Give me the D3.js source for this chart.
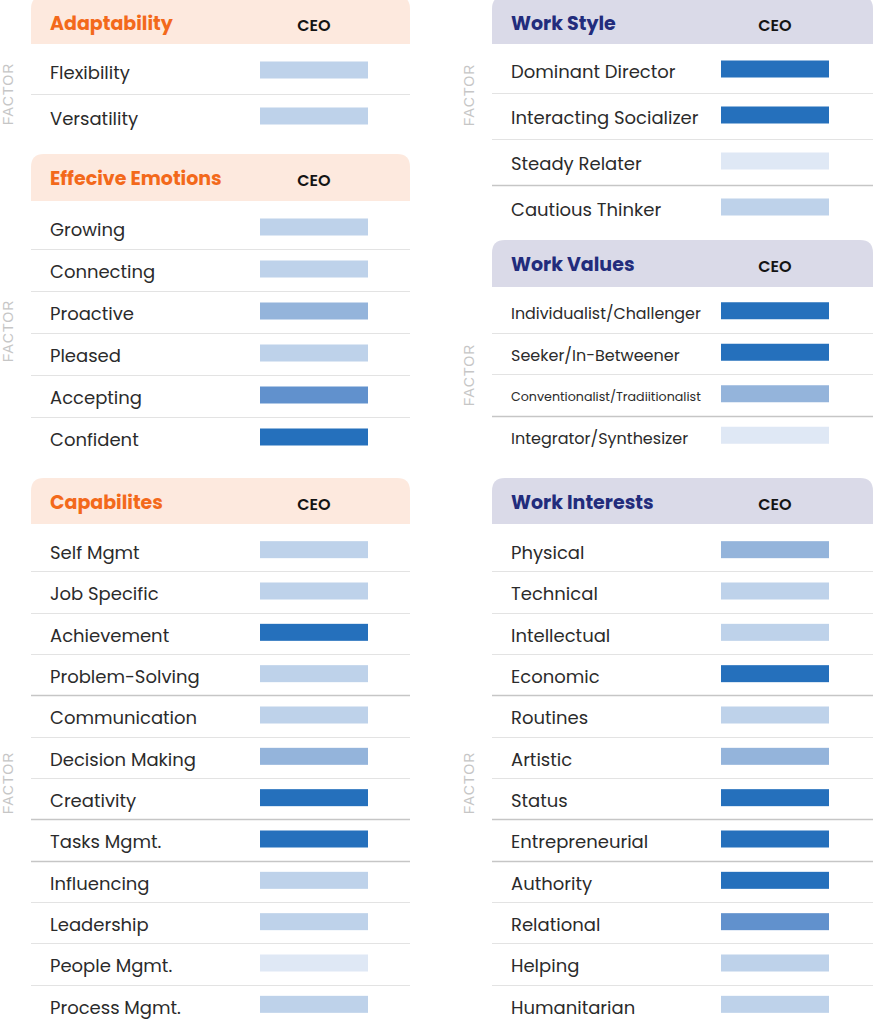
<!DOCTYPE html>
<html>
<head>
<meta charset="utf-8">
<script src="https://cdn.jsdelivr.net/npm/d3@7"></script>
<style>
  html, body { margin: 0; padding: 0; background: #fff; }
  svg { display: block; font-family: Poppins, Inter, "Open Sans", sans-serif; }
</style>
</head>
<body>
<div id="vis"></div>
<script>
// CEO factor profile: one swatch per factor, shade = level (1 lightest .. 5 darkest)

const LEVEL_KEYS   = [1, 2, 3, 4, 5];
const LEVEL_COLORS = ["#dfe8f5", "#bed2ea", "#94b4db", "#6191cd", "#2570bc"];

const ADAPT_FACTORS = ["Flexibility", "Versatility"];
const ADAPT_LEVELS  = [2, 2];

const EMOTION_FACTORS = ["Growing", "Connecting", "Proactive", "Pleased", "Accepting", "Confident"];
const EMOTION_LEVELS  = [2, 2, 3, 2, 4, 5];

const CAPABILITY_FACTORS = ["Self Mgmt", "Job Specific", "Achievement", "Problem-Solving", "Communication",
  "Decision Making", "Creativity", "Tasks Mgmt.", "Influencing", "Leadership", "People Mgmt.", "Process Mgmt."];
const CAPABILITY_LEVELS  = [2, 2, 5, 2, 2, 3, 5, 5, 2, 2, 1, 2];

const STYLE_FACTORS = ["Dominant Director", "Interacting Socializer", "Steady Relater", "Cautious Thinker"];
const STYLE_LEVELS  = [5, 5, 1, 2];

const VALUE_FACTORS = ["Individualist/Challenger", "Seeker/In-Betweener", "Conventionalist/Tradiitionalist", "Integrator/Synthesizer"];
const VALUE_LEVELS  = [5, 5, 3, 1];

const INTEREST_FACTORS = ["Physical", "Technical", "Intellectual", "Economic", "Routines", "Artistic",
  "Status", "Entrepreneurial", "Authority", "Relational", "Helping", "Humanitarian"];
const INTEREST_LEVELS  = [3, 2, 2, 5, 2, 3, 5, 5, 5, 4, 2, 2];

const COLUMN_LABEL = "CEO";
const AXIS_LABEL   = "FACTOR";

// ── Layout ───────────────────────────────────────────────────────────────────

const W = 874, H = 1024;
const ORANGE = { head: "#fde9de", title: "#f3691b" };
const NAVY   = { head: "#dadae8", title: "#222c7c" };

// strong = indices of rows whose top rule is drawn darker (as in the source image)
const panels = [
  { title: "Adaptability",      factors: ADAPT_FACTORS,      levels: ADAPT_LEVELS,      theme: ORANGE,
    x0: 31,  x1: 410, top: -4,  headBottom: 44,  rows: [48, 140],   factorX: 8,   factorY: 94 },
  { title: "Effecive Emotions", factors: EMOTION_FACTORS,    levels: EMOTION_LEVELS,    theme: ORANGE,
    x0: 31,  x1: 410, top: 154, headBottom: 201, rows: [207, 459],  factorX: 8,   factorY: 331 },
  { title: "Capabilites",       factors: CAPABILITY_FACTORS, levels: CAPABILITY_LEVELS, theme: ORANGE,
    x0: 31,  x1: 410, top: 478, headBottom: 524, rows: [530, 1026], factorX: 8,   factorY: 783, strong: [4, 7, 8] },
  { title: "Work Style",        factors: STYLE_FACTORS,      levels: STYLE_LEVELS,      theme: NAVY,
    x0: 492, x1: 873, top: -4,  headBottom: 44,  rows: [47, 231],   factorX: 469, factorY: 95,  strong: [3] },
  { title: "Work Values",       factors: VALUE_FACTORS,      levels: VALUE_LEVELS,      theme: NAVY,
    x0: 492, x1: 873, top: 240, headBottom: 287, rows: [291, 457],  factorX: 469, factorY: 375, strong: [3],
    labelSize: 16, maxLabel: 190 },
  { title: "Work Interests",    factors: INTEREST_FACTORS,   levels: INTEREST_LEVELS,   theme: NAVY,
    x0: 492, x1: 873, top: 478, headBottom: 524, rows: [530, 1026], factorX: 469, factorY: 783, strong: [4, 7, 8] },
];

const color = d3.scaleOrdinal().domain(LEVEL_KEYS).range(LEVEL_COLORS);

const svg = d3.select("#vis").append("svg").attr("width", W).attr("height", H);

panels.forEach(p => {
  const g = svg.append("g");
  const barX = p.x0 + 229, barW = 108, barH = 17;
  const labelSize = p.labelSize || 18;
  const strong = p.strong || [];

  // header with rounded top corners
  const r = 13, hx0 = p.x0, hx1 = p.x1, ht = p.top, hb = p.headBottom;
  g.append("path")
    .attr("d", `M${hx0},${hb} V${ht + r} Q${hx0},${ht} ${hx0 + r},${ht} H${hx1 - r} Q${hx1},${ht} ${hx1},${ht + r} V${hb} Z`)
    .attr("fill", p.theme.head);

  const headMid = (Math.max(p.top, 0) + p.headBottom) / 2 + 1;
  g.append("text")
    .attr("x", p.x0 + 19).attr("y", headMid).attr("dy", "0.35em")
    .style("font-size", "19px").style("font-weight", 700).style("fill", p.theme.title)
    .text(p.title);
  g.append("text")
    .attr("x", barX + barW / 2).attr("y", headMid + 2).attr("dy", "0.35em")
    .attr("text-anchor", "middle")
    .style("font-size", "16px").style("font-weight", 600).style("fill", "#141414")
    .text(COLUMN_LABEL);

  const y = d3.scaleBand().domain(p.factors).range(p.rows).padding(0);

  // rules between rows
  g.selectAll("line.sep").data(p.factors.slice(1)).join("line")
    .attr("class", "sep")
    .attr("x1", p.x0).attr("x2", p.x1)
    .attr("y1", d => Math.round(y(d)) + 0.5).attr("y2", d => Math.round(y(d)) + 0.5)
    .attr("stroke", d => strong.includes(p.factors.indexOf(d)) ? "#c6c6c6" : "#e3e3e3")
    .attr("stroke-width", d => strong.includes(p.factors.indexOf(d)) ? 1.5 : 1);

  const rows = p.factors.map((f, i) => ({ factor: f, level: p.levels[i] }));

  g.selectAll("text.lab").data(rows).join("text")
    .attr("class", "lab")
    .attr("x", p.x0 + 19).attr("y", d => y(d.factor) + y.bandwidth() / 2 + 2).attr("dy", "0.35em")
    .style("font-size", labelSize + "px").style("fill", "#2b2b2b")
    .text(d => d.factor)
    .each(function() {
      if (!p.maxLabel) return;
      const w = this.getComputedTextLength();
      if (w > p.maxLabel) d3.select(this).style("font-size", (labelSize * p.maxLabel / w).toFixed(2) + "px");
    });

  g.selectAll("rect.bar").data(rows).join("rect")
    .attr("class", "bar")
    .attr("x", barX).attr("width", barW)
    .attr("y", d => y(d.factor) + y.bandwidth() / 2 - barH / 2 - 1).attr("height", barH)
    .attr("fill", d => color(d.level));

  g.append("text")
    .attr("transform", `translate(${p.factorX},${p.factorY}) rotate(-90)`)
    .attr("text-anchor", "middle").attr("dy", "0.35em")
    .style("font-family", "'Liberation Sans', Arial, sans-serif")
    .style("font-size", "14px").style("letter-spacing", "1px").style("fill", "#c6c6c6")
    .text(AXIS_LABEL);
});
</script>
</body>
</html>
